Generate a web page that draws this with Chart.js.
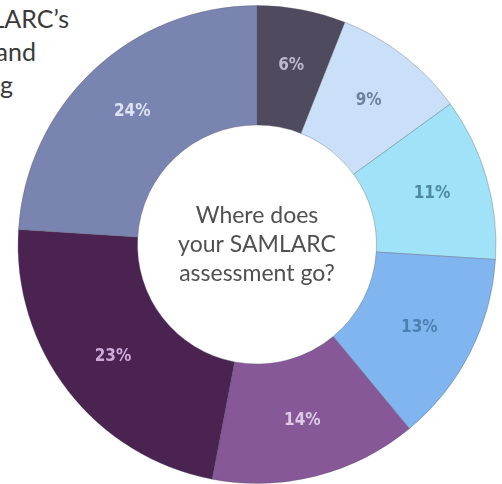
<!DOCTYPE html>
<html>
<head>
<meta charset="utf-8">
<script src="https://cdn.jsdelivr.net/npm/chart.js@4"></script>
<style>
  html, body { margin: 0; padding: 0; background: #fff; }
  #wrap { position: relative; width: 502px; height: 484px; overflow: hidden; }
  #chart { position: absolute; left: 0; top: 0; }
  .side { position: absolute; font-family: Lato, "Open Sans", sans-serif; font-size: 25px;
          color: #3a3a3a; white-space: nowrap; text-align: right; line-height: 33px; }
</style>
</head>
<body>
<div id="wrap">
  <div class="side" style="right:433px; top:2px;">SAMLARC’s</div>
  <div class="side" style="right:466px; top:35px;">and</div>
  <div class="side" style="right:489px; top:68px;">funding</div>
  <canvas id="chart" width="502" height="484"></canvas>
</div>
<script>
// Slices, clockwise from 12 o'clock
const shares = [6, 9, 11, 13, 14, 23, 24];
const sliceColors = ['#4f4a5d', '#c9e0f8', '#a0e2f7', '#80b5ef', '#875897', '#4a2351', '#7a84b0'];
const labelColors = ['#bdb8cc', '#6d819c', '#4f8aa0', '#4d7fb3', '#dccbe4', '#cda9da', '#dde2f4'];
const centerLines = ['Where does', 'your SAMLARC', 'assessment go?'];

// percent labels on each slice + question in the hole
const labelPlugin = {
    id: 'sliceLabels',
    afterDatasetsDraw(chart) {
        const ctx = chart.ctx;
        const meta = chart.getDatasetMeta(0);
        ctx.save();
        ctx.textAlign = 'center';
        ctx.textBaseline = 'middle';
        ctx.font = 'bold 17px "DejaVu Sans Condensed", "Liberation Sans Narrow", sans-serif';
        meta.data.forEach((arc, i) => {
            const mid = (arc.startAngle + arc.endAngle) / 2;
            const r = (arc.innerRadius + arc.outerRadius) / 2 + 3;
            ctx.fillStyle = labelColors[i];
            ctx.fillText(shares[i] + '%', arc.x + Math.cos(mid) * r, arc.y + Math.sin(mid) * r);
        });
        const a0 = meta.data[0];
        ctx.font = '23px Lato, "Open Sans", sans-serif';
        ctx.fillStyle = '#505050';
        ctx.textBaseline = 'alphabetic';
        centerLines.forEach((t, k) => {
            ctx.fillText(t, a0.x, a0.y - 22 + k * 29);
        });
        ctx.restore();
    }
};

new Chart(document.getElementById('chart'), {
    type: 'doughnut',
    data: {
        labels: shares.map(v => v + '%'),
        datasets: [{
            data: shares,
            backgroundColor: sliceColors,
            borderColor: 'rgba(90, 90, 110, 0.35)',
            borderWidth: 1
        }]
    },
    options: {
        responsive: false,
        animation: false,
        cutout: '50%',
        layout: { padding: { left: 17, right: 5, top: 5, bottom: 0 } },
        plugins: {
            legend: { display: false },
            tooltip: { enabled: false }
        }
    },
    plugins: [labelPlugin]
});
</script>
</body>
</html>
